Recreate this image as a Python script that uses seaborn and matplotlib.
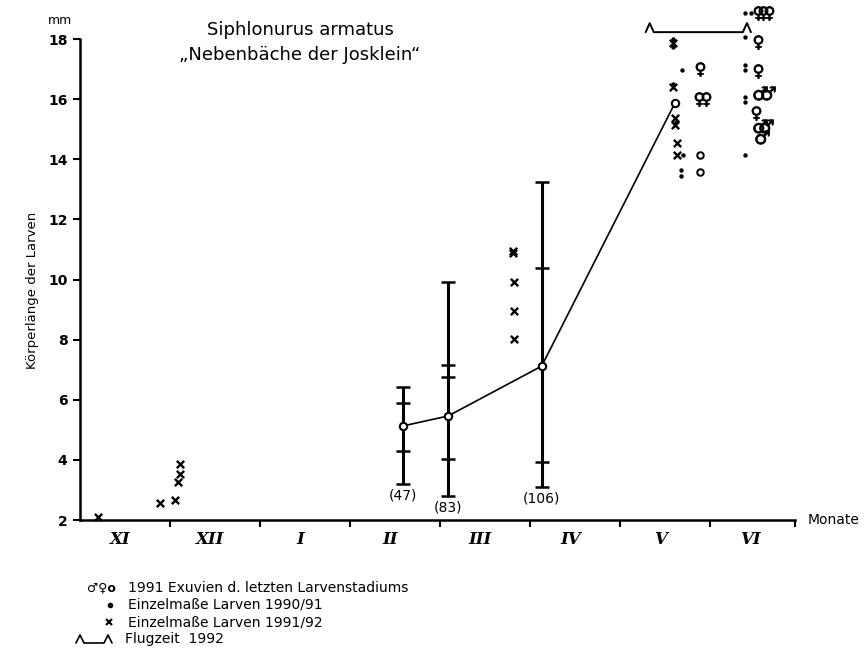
import matplotlib
matplotlib.use("Agg")
import matplotlib.pyplot as plt
from matplotlib.lines import Line2D
import seaborn as sns
import pandas as pd

# ---------------- data ----------------
months = ["XI", "XII", "I", "II", "III", "IV", "V", "VI"]
month_bounds = [1, 2, 3, 4, 5, 6, 7]

# summary bars (n, mean, range, SD-marks)
eb_x = [3.59, 4.09, 5.13]
eb_mean = [5.13, 5.46, 7.12]
eb_min = [3.20, 2.80, 3.10]
eb_max = [6.42, 9.92, 13.24]
eb_n = ["(47)", "(83)", "(106)"]
sd_x = [3.59, 3.59, 4.09, 4.09, 4.09, 5.13, 5.13]
sd_y = [5.89, 4.30, 7.16, 6.76, 4.03, 10.38, 3.93]

# mean line
line_x = [3.59, 4.09, 5.13, 6.61]
line_y = [5.13, 5.46, 7.12, 15.87]

# single measurements larvae 1991/92 (x)
cross_x = [0.20, 0.89, 1.06, 1.11, 1.11, 1.09,
           4.81, 4.81, 4.82, 4.82, 4.82,
           6.59, 6.59, 6.61, 6.61, 6.63, 6.63]
cross_y = [2.10, 2.57, 2.67, 3.86, 3.53, 3.26,
           10.95, 10.88, 9.92, 8.95, 8.02,
           17.86, 16.40, 15.37, 15.14, 14.54, 14.14]

# single measurements larvae 1990/91 (dots)
dot_x = [6.59, 6.59, 6.69, 6.59, 6.62, 6.70, 6.68, 6.68,
         7.39, 7.45, 7.39, 7.39, 7.39, 7.39, 7.39, 7.39]
dot_y = [18.00, 17.72, 16.97, 16.52, 15.25, 14.14, 13.64, 13.45,
         18.87, 18.87, 18.07, 17.15, 16.98, 16.08, 15.90, 14.14]

# exuviae 1991
fem_x = [6.89, 6.88, 6.95, 7.53, 7.59, 7.65, 7.53, 7.53, 7.51]
fem_y = [17.00, 16.00, 16.00, 18.87, 18.87, 18.87, 17.90, 16.94, 15.54]
male_x = [7.56, 7.64, 7.55, 7.62, 7.58]
male_y = [16.20, 16.20, 15.10, 15.10, 14.74]
exu_x = [6.89, 6.89]
exu_y = [14.14, 13.58]

# flight period 1992
flight_start = 6.33
flight_end = 7.41
flight_level = 18.23

# ---------------- figure ----------------
sns.set_theme(style="white")
plt.rcParams['font.family'] = ['DejaVu Sans']
for k in ["text.color", "axes.labelcolor", "xtick.color", "ytick.color", "axes.edgecolor"]:
    plt.rcParams[k] = "black"

W, H = 868, 659
fig = plt.figure(figsize=(W / 100, H / 100), dpi=100)
ax = fig.add_axes([80 / W, 139 / H, 720 / W, 511 / H])
ax.set_xlim(0, 8)
ax.set_ylim(2, 19)

# error bars
for x, lo, hi in zip(eb_x, eb_min, eb_max):
    ax.vlines(x, lo, hi, color="black", lw=2.2, zorder=2)
cap_df = pd.DataFrame({"x": eb_x * 2, "y": eb_min + eb_max})
sns.scatterplot(data=cap_df, x="x", y="y", marker="_", s=110, linewidth=1.8,
                color="black", ax=ax, zorder=3)
sns.scatterplot(x=sd_x, y=sd_y, marker="_", s=110, linewidth=1.8,
                color="black", ax=ax, zorder=3)
for x, lo, lab in zip(eb_x, eb_min, eb_n):
    ax.annotate(lab, (x, lo), xytext=(0, -3), textcoords="offset points",
                ha="center", va="top", fontsize=10)

# mean line
sns.lineplot(x=line_x, y=line_y, color="black", lw=1.2, ax=ax,
             sort=False, zorder=4)
sns.scatterplot(x=line_x, y=line_y, marker="o", s=28, facecolor="white",
                edgecolor="black", linewidth=1.5, ax=ax, zorder=5)

# single values
sns.scatterplot(x=cross_x, y=cross_y, marker="x", s=28, linewidth=1.7,
                color="black", ax=ax, zorder=5)
sns.scatterplot(x=dot_x, y=dot_y, marker="o", s=10, linewidth=0,
                color="black", ax=ax, zorder=5)
sns.scatterplot(x=fem_x, y=fem_y, marker="$♀$", s=100, linewidth=0.6,
                color="black", edgecolor="black", ax=ax, zorder=5)
sns.scatterplot(x=male_x, y=male_y, marker="$♂$", s=100, linewidth=0.6,
                color="black", edgecolor="black", ax=ax, zorder=5)
sns.scatterplot(x=exu_x, y=exu_y, marker="o", s=22, facecolor="white",
                edgecolor="black", linewidth=1.4, ax=ax, zorder=5)
for coll in ax.collections:
    coll.set_clip_on(False)

# flight period bracket
hw, ht = 0.045, 0.30
fx = [flight_start - hw, flight_start, flight_start + hw,
      flight_end - hw, flight_end, flight_end + hw]
fy = [flight_level, flight_level + ht, flight_level,
      flight_level, flight_level + ht, flight_level]
ax.plot(fx, fy, color="black", lw=1.4, clip_on=False)

# axes styling
for s in ["top", "right"]:
    ax.spines[s].set_visible(False)
ax.spines["left"].set_bounds(2, 18)
ax.spines["bottom"].set_bounds(0, 7.94)
for s in ["left", "bottom"]:
    ax.spines[s].set_linewidth(1.8)
    ax.spines[s].set_color("black")

ax.set_yticks(list(range(2, 19, 2)))
ax.set_yticklabels([str(v) for v in range(2, 19, 2)], fontsize=10, fontweight="bold")
ax.tick_params(axis="y", direction="out", length=5, width=1.5, pad=4, left=True)

ax.set_xticks(month_bounds + [7.94])
ax.set_xticklabels([])
ax.tick_params(axis="x", which="major", direction="out", length=5, width=1.5, bottom=True)
ax.set_xticks([i + 0.45 for i in range(len(months))], minor=True)
ax.set_xticklabels(months, minor=True, fontsize=12, fontweight="bold",
                   style="italic", family="DejaVu Serif")
ax.tick_params(axis="x", which="minor", length=0, pad=8)

ax.set_xlabel("")
ax.set_ylabel("Körperlänge der Larven", fontsize=9.5)
ax.yaxis.set_label_coords(-41 / 720, 0.45)

ax.text(8.08, 2, "Monate", fontsize=10, ha="left", va="center", clip_on=False)
ax.text(-0.22, 18.62, "mm", fontsize=9, ha="center", va="center", clip_on=False)

# title
fig.text(300 / W, 1 - 30 / H, "Siphlonurus armatus", fontsize=13, ha="center", va="center")
fig.text(300 / W, 1 - 55 / H, "„Nebenbäche der Josklein“", fontsize=13, ha="center", va="center")

# legend
rows = [588, 605, 622, 639]
def fy_(p):
    return 1 - p / H
fig.text(87 / W, fy_(rows[0]), "♂♀o", fontsize=9, ha="left", va="center", fontweight="bold")
fig.text(128 / W, fy_(rows[0]), "1991 Exuvien d. letzten Larvenstadiums", fontsize=10, ha="left", va="center")
fig.add_artist(Line2D([110 / W], [fy_(rows[1])], marker="o", markersize=3, color="black", lw=0))
fig.text(128 / W, fy_(rows[1]), "Einzelmaße Larven 1990/91", fontsize=10, ha="left", va="center")
fig.add_artist(Line2D([109 / W], [fy_(rows[2])], marker="x", markersize=5, mew=1.5, color="black", lw=0))
fig.text(128 / W, fy_(rows[2]), "Einzelmaße Larven 1991/92", fontsize=10, ha="left", va="center")
lx = [76, 80, 84, 104, 108, 112]
ly = [rows[3] + 4, rows[3] - 4, rows[3] + 4, rows[3] + 4, rows[3] - 4, rows[3] + 4]
fig.add_artist(Line2D([v / W for v in lx], [fy_(v) for v in ly], color="black", lw=1.2))
fig.text(125 / W, fy_(rows[3]), "Flugzeit  1992", fontsize=10, ha="left", va="center")

fig.savefig("out.png", dpi=100)
